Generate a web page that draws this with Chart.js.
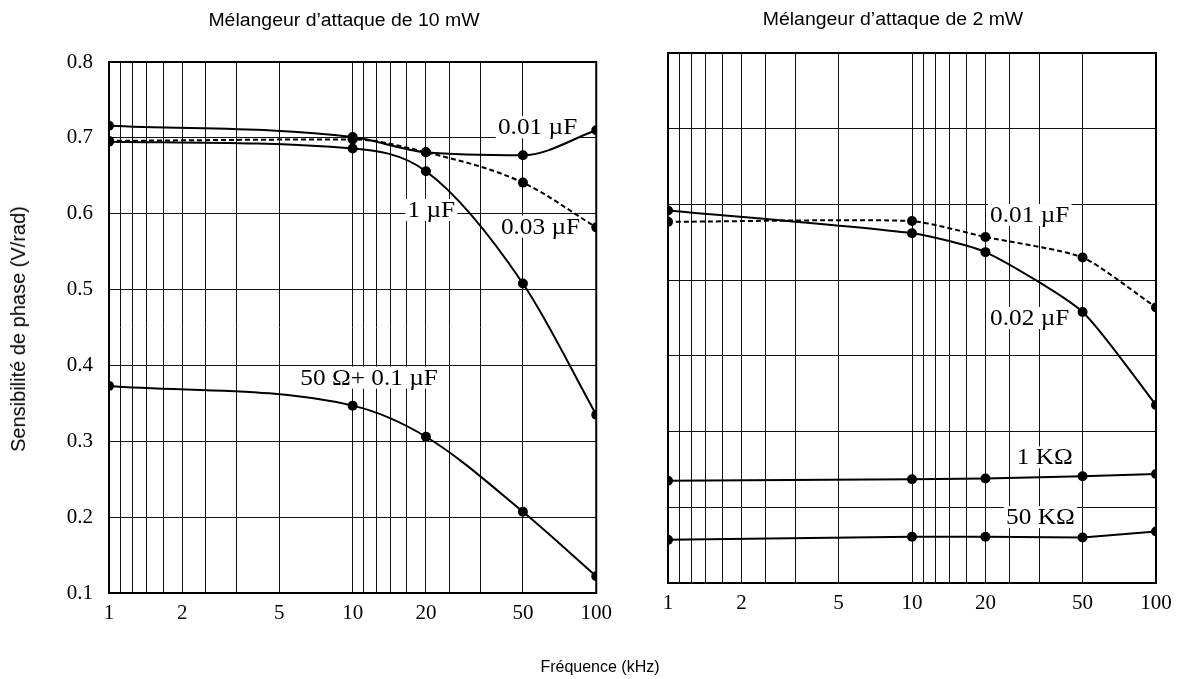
<!DOCTYPE html>
<html><head><meta charset="utf-8">
<script src="https://cdn.jsdelivr.net/npm/chart.js@4.4.0/dist/chart.umd.min.js"></script>
<style>
html,body{margin:0;padding:0;background:#fff;}
body{width:1187px;height:679px;overflow:hidden;position:relative;font-family:"Liberation Sans",Arial,sans-serif;color:#000;}
canvas{position:absolute;top:0;}
.t{position:absolute;white-space:nowrap;transform:translate(-50%,-50%);line-height:1;}
</style></head><body>
<canvas id="c1" width="620" height="679" style="left:0px"></canvas>
<canvas id="c2" width="567" height="679" style="left:620px"></canvas>
<div class="t" style="left:344px;top:20px;font-size:18px;transform:translate(-50%,-50%) scaleX(1.08);">Mélangeur d’attaque de 10 mW</div>
<div class="t" style="left:893px;top:19px;font-size:18px;transform:translate(-50%,-50%) scaleX(1.08);">Mélangeur d’attaque de 2 mW</div>
<div class="t" style="left:18px;top:329px;font-size:20px;transform:translate(-50%,-50%) rotate(-90deg);">Sensibilité de phase (V/rad)</div>
<div class="t" style="left:600px;top:667px;font-size:16px;">Fréquence (kHz)</div>
<script>
// ---- data ----
const freqs = [1, 10, 20, 50, 100];
// left panel: 10 mW
const left_001uF = [0.716, 0.701, 0.681, 0.677, 0.710];
const left_003uF = [0.696, 0.698, 0.681, 0.641, 0.582];
const left_1uF   = [0.695, 0.686, 0.656, 0.508, 0.335];
const left_50ohm = [0.373, 0.347, 0.306, 0.207, 0.122];
// right panel: 2 mW
const right_001uF = [0.577, 0.578, 0.557, 0.530, 0.464];
const right_002uF = [0.592, 0.562, 0.537, 0.458, 0.335];
const right_1k    = [0.235, 0.237, 0.238, 0.241, 0.244];
const right_50k   = [0.157, 0.161, 0.161, 0.160, 0.168];
// axes
const xGridVals = [1, 1.111, 1.25, 1.429, 1.667, 2, 2.5, 3.333, 5, 10, 11.11, 12.5, 14.29, 16.67, 20, 25, 33.33, 50, 100];
const xTickLabels = [1, 2, 5, 10, 20, 50, 100];
const yTickVals = [0.1, 0.2, 0.3, 0.4, 0.5, 0.6, 0.7, 0.8];
const yTickLabels = ['0.1', '0.2', '0.3', '0.4', '0.5', '0.6', '0.7', '0.8'];
// curve labels [text, freq, value]
const leftLabels = [['0.01 µF', 39.5, 0.714], ['1 µF', 16.8, 0.605], ['0.03 µF', 40.6, 0.583], ['50 Ω+ 0.1 µF', 6.1, 0.384]];
const rightLabels = [['0.01 µF', 20.9, 0.586], ['0.02 µF', 20.9, 0.45], ['1 KΩ', 26.9, 0.266], ['50 KΩ', 24.3, 0.187]];

Chart.defaults.font.family = '"Liberation Serif","Times New Roman",serif';
Chart.defaults.font.size = 21;
Chart.defaults.color = '#000';

function pts(vals) { return freqs.map((f, i) => ({ x: f, y: vals[i] })); }
function ds(vals, dashed, mode) {
  return {
    data: pts(vals), borderColor: '#000', backgroundColor: '#000', borderWidth: 2,
    borderDash: dashed ? [5, 3] : [], pointRadius: 5, pointBackgroundColor: '#000', pointBorderWidth: 0,
    cubicInterpolationMode: mode === 'mono' ? 'monotone' : 'default',
    tension: mode === 'spline' ? 0.2 : 0, fill: false
  };
}
const framePlugin = {
  id: 'frame',
  beforeDatasetsDraw(chart) {
    const { ctx, chartArea: a } = chart;
    ctx.save(); ctx.strokeStyle = '#000'; ctx.lineWidth = 2;
    ctx.strokeRect(a.left, a.top, a.right - a.left, a.bottom - a.top);
    ctx.restore();
  }
};
function labelPlugin(labels) {
  return {
    id: 'curveLabels',
    beforeDatasetsDraw(chart) {
      const ctx = chart.ctx, xs = chart.scales.x, ys = chart.scales.y;
      ctx.save();
      ctx.font = '23px "Liberation Serif","Times New Roman",serif';
      ctx.textBaseline = 'middle'; ctx.textAlign = 'left';
      labels.forEach(([t, fx, fy]) => {
        const px = xs.getPixelForValue(fx), py = ys.getPixelForValue(fy);
        ctx.save();
        ctx.translate(px, py);
        ctx.scale(1.1, 1);
        const w = ctx.measureText(t).width;
        ctx.fillStyle = '#fff';
        ctx.fillRect(-2, -11, w + 4, 22);
        ctx.fillStyle = '#000';
        ctx.fillText(t, 0, 1);
        ctx.restore();
      });
      ctx.restore();
    }
  };
}
function makeChart(id, datasets, labels, showY, pad, yWidth, xHeight) {
  return new Chart(document.getElementById(id), {
    type: 'line',
    data: { datasets },
    options: {
      responsive: false, animation: false, events: [],
      layout: { padding: pad },
      plugins: { legend: { display: false }, tooltip: { enabled: false }, title: { display: false } },
      scales: {
        x: {
          type: 'logarithmic', min: 1, max: 100,
          afterBuildTicks: s => { s.ticks = xGridVals.map(v => ({ value: v })); },
          afterFit: s => { s.height = xHeight; },
          ticks: { autoSkip: false, maxRotation: 0, padding: 8,
            callback: v => xTickLabels.includes(v) ? String(v) : '' },
          grid: { color: '#111', lineWidth: 1, drawTicks: false },
          border: { display: false }
        },
        y: {
          type: 'linear', min: 0.1, max: 0.8,
          afterBuildTicks: s => { s.ticks = yTickVals.map(v => ({ value: v })); },
          afterFit: s => { s.width = yWidth; },
          ticks: { display: showY, padding: 16,
            callback: (v) => { const i = yTickVals.findIndex(t => Math.abs(t - v) < 1e-6); return i >= 0 ? yTickLabels[i] : ''; } },
          grid: { color: '#111', lineWidth: 1, drawTicks: false },
          border: { display: false }
        }
      }
    },
    plugins: [framePlugin, labelPlugin(labels)]
  });
}
makeChart('c1', [
  ds(left_001uF, false, 'mono'), ds(left_003uF, true, 'mono'), ds(left_1uF, false, 'mono'), ds(left_50ohm, false, 'mono')
], leftLabels, true, { top: 62, right: 23, bottom: 0, left: 0 }, 109, 679 - 593);
makeChart('c2', [
  ds(right_001uF, true, 'spline'), ds(right_002uF, false, 'spline'), ds(right_1k, false, 'line'), ds(right_50k, false, 'line')
], rightLabels, false, { top: 53, right: 31, bottom: 0, left: 0 }, 48, 679 - 583);
</script>
</body></html>
